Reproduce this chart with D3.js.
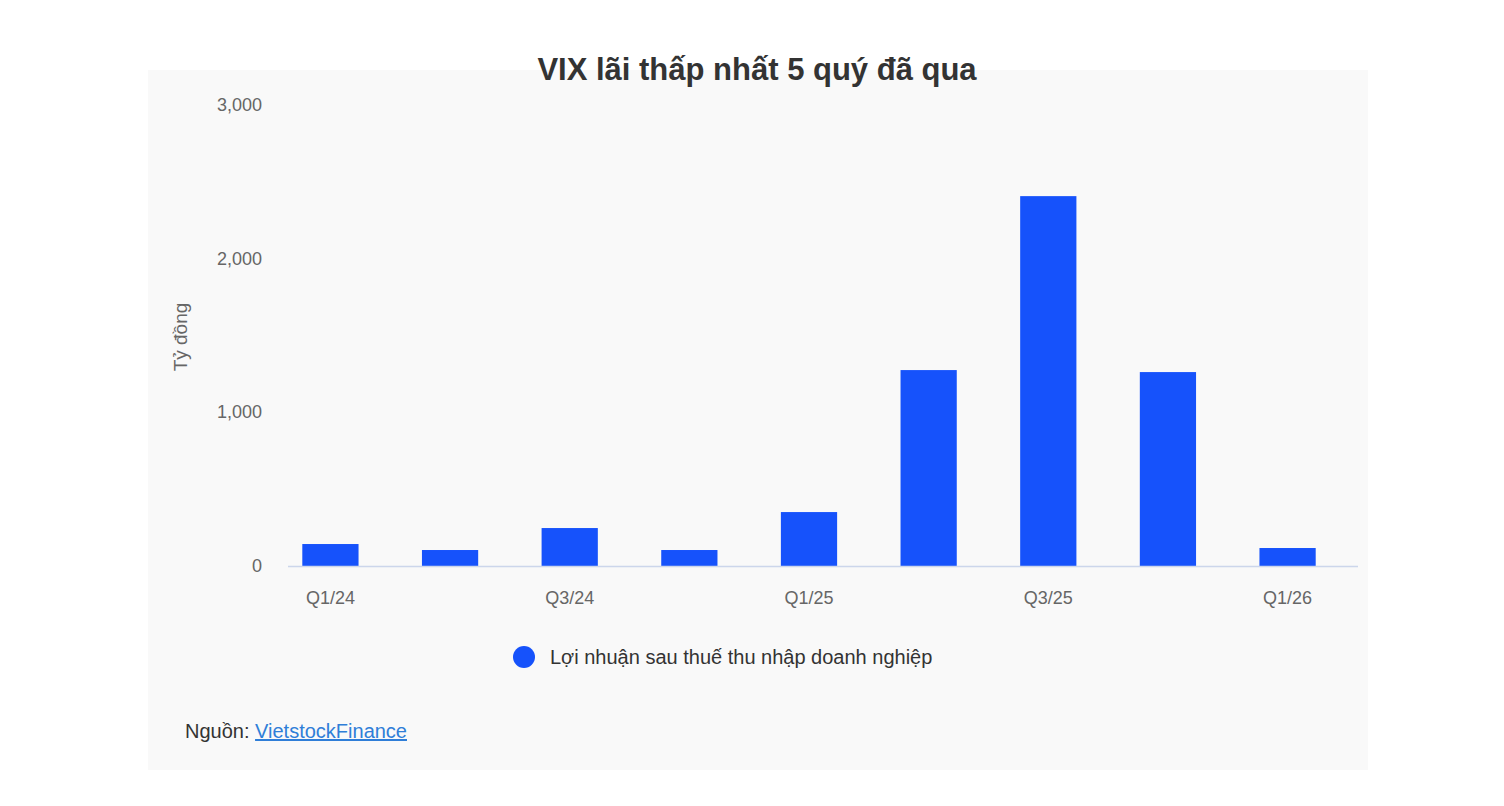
<!DOCTYPE html>
<html><head><meta charset="utf-8">
<script src="https://cdn.jsdelivr.net/npm/d3@7"></script>
<style>body{margin:0;background:#fff;font-family:"Liberation Sans",Arial,sans-serif}</style>
</head><body><div id="chart"></div>
<script>
// dữ liệu
const quarters = ["Q1/24","Q2/24","Q3/24","Q4/24","Q1/25","Q2/25","Q3/25","Q4/25","Q1/26"];
const profit = [143, 104, 247, 104, 351, 1275, 2407, 1262, 117];
const yTicks = [0, 1000, 2000, 3000];
const shownLabels = ["Q1/24","Q3/24","Q1/25","Q3/25","Q1/26"];

const W = 1504, H = 806;
const svg = d3.select("#chart").append("svg").attr("width", W).attr("height", H);

svg.append("rect").attr("x",148).attr("y",70).attr("width",1220).attr("height",700).attr("fill","#f9f9f9");

svg.append("text").attr("x",757).attr("y",80).attr("text-anchor","middle")
  .style("font-size","31px").style("font-weight","bold").attr("fill","#333")
  .text("VIX lãi thấp nhất 5 quý đã qua");

const x = d3.scaleBand().domain(quarters).range([270,1348]).paddingInner(0.53).paddingOuter(0.27);
const y = d3.scaleLinear().domain([0,3000]).range([566,105]);

// trục y
svg.append("g").selectAll("text").data(yTicks).enter().append("text")
  .attr("x",262).attr("y",d=>y(d)+6).attr("text-anchor","end")
  .style("font-size","18px").attr("fill","#666").text(d=>d3.format(",")(d));

svg.append("text").attr("transform","translate(187,337) rotate(-90)")
  .attr("text-anchor","middle").style("font-size","19px").attr("fill","#666").text("Tỷ đồng");

// cột
svg.append("g").selectAll("rect").data(profit).enter().append("rect")
  .attr("x",(d,i)=>x(quarters[i])).attr("width",x.bandwidth())
  .attr("y",d=>y(d)).attr("height",d=>y(0)-y(d)).attr("fill","#1652fb");

svg.append("line").attr("x1",288).attr("x2",1358).attr("y1",566.5).attr("y2",566.5)
  .attr("stroke","#ccd6eb").attr("stroke-width",1.5);

svg.append("g").selectAll("text").data(shownLabels).enter().append("text")
  .attr("x",d=>x(d)+x.bandwidth()/2).attr("y",604).attr("text-anchor","middle")
  .style("font-size","18px").attr("fill","#666").text(d=>d);

// chú thích
svg.append("circle").attr("cx",524).attr("cy",657).attr("r",11).attr("fill","#1652fb");
svg.append("text").attr("x",550).attr("y",664).style("font-size","20px").attr("fill","#333")
  .text("Lợi nhuận sau thuế thu nhập doanh nghiệp");

const src = svg.append("text").attr("x",185).attr("y",738).style("font-size","20px").attr("fill","#333");
src.append("tspan").text("Nguồn: ");
src.append("tspan").attr("fill","#2f7ed8").attr("text-decoration","underline").text("VietstockFinance");
</script></body></html>
